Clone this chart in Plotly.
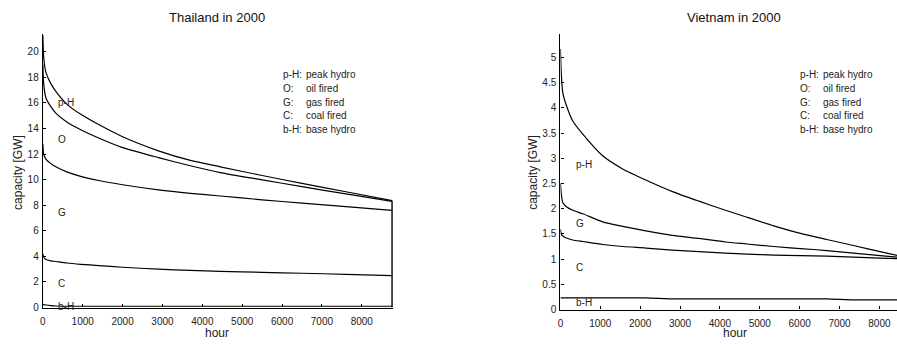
import plotly.graph_objects as go

# ---------------- data ----------------
th_hours = [0, 20, 75, 200, 325, 600, 950, 1400, 2000, 2900, 3700, 4450, 5500, 6500, 7600, 8760]
th_peak_hydro = [21.3, 19.6, 18.4, 17.5, 16.9, 15.9, 15.1, 14.3, 13.35, 12.25, 11.5, 11.0, 10.32, 9.7, 9.05, 8.35]
th_oil = [19.0, 17.5, 16.4, 15.7, 15.2, 14.5, 13.9, 13.25, 12.5, 11.72, 11.08, 10.55, 9.98, 9.45, 8.88, 8.3]
th_gas = [12.8, 12.0, 11.6, 11.25, 11.0, 10.6, 10.25, 9.93, 9.6, 9.2, 8.93, 8.72, 8.42, 8.16, 7.88, 7.6]
th_coal = [4.2, 3.95, 3.75, 3.65, 3.6, 3.48, 3.38, 3.28, 3.15, 3.0, 2.9, 2.83, 2.75, 2.68, 2.6, 2.5]
th_base_hydro = [0.25, 0.23, 0.2, 0.15, 0.12, 0.1, 0.1, 0.1, 0.1, 0.1, 0.1, 0.1, 0.1, 0.1, 0.1, 0.1]

vn_hours = [0, 20, 60, 150, 310, 560, 1060, 1560, 2140, 2810, 3475, 4140, 4680, 5350, 6020, 6680, 7350, 8020, 8760]
vn_peak_hydro = [5.17, 4.7, 4.3, 4.05, 3.74, 3.48, 3.05, 2.79, 2.57, 2.34, 2.15, 1.97, 1.83, 1.66, 1.51, 1.39, 1.27, 1.15, 1.02]
vn_gas = [2.5, 2.3, 2.12, 2.04, 1.97, 1.9, 1.74, 1.65, 1.56, 1.47, 1.41, 1.34, 1.3, 1.25, 1.21, 1.17, 1.12, 1.07, 1.02]
vn_coal = [1.59, 1.5, 1.46, 1.42, 1.38, 1.35, 1.29, 1.25, 1.22, 1.18, 1.15, 1.12, 1.1, 1.08, 1.07, 1.06, 1.04, 1.02, 1.0]
vn_base_hydro = [0.23, 0.23, 0.23, 0.23, 0.23, 0.23, 0.23, 0.23, 0.23, 0.21, 0.21, 0.21, 0.21, 0.21, 0.21, 0.21, 0.19, 0.19, 0.19]

x_ticks = [0, 1000, 2000, 3000, 4000, 5000, 6000, 7000, 8000]
th_y_ticks = [0, 2, 4, 6, 8, 10, 12, 14, 16, 18, 20]
vn_y_ticks = [0, 0.5, 1, 1.5, 2, 2.5, 3, 3.5, 4, 4.5, 5]

legend_keys = ["p-H:", "O:", "G:", "C:", "b-H:"]
legend_desc = ["peak hydro", "oil fired", "gas fired", "coal fired", "base hydro"]

th_labels = ["p-H", "O", "G", "C", "b-H"]
th_label_y = [16.0, 13.1, 7.4, 1.9, 0.05]
vn_labels = ["p-H", "G", "C", "b-H"]
vn_label_y = [2.88, 1.70, 0.84, 0.13]

# ---------------- figure ----------------
W, H = 897, 344
FONT = "Arial, Liberation Sans, sans-serif"
LINE = dict(color="black", width=1.2, shape="spline", smoothing=0.6)

fig = go.Figure()

for ys in [th_peak_hydro, th_oil, th_gas, th_coal, th_base_hydro]:
    fig.add_trace(go.Scatter(x=th_hours, y=ys, mode="lines", line=LINE,
                             xaxis="x", yaxis="y", showlegend=False, hoverinfo="skip"))
# closing vertical line at the end of the year
fig.add_trace(go.Scatter(x=[th_hours[-1], th_hours[-1]], y=[0, th_peak_hydro[-1]], mode="lines",
                         line=dict(color="black", width=1.5), xaxis="x", yaxis="y",
                         showlegend=False, hoverinfo="skip", cliponaxis=False))

for ys in [vn_peak_hydro, vn_gas, vn_coal, vn_base_hydro]:
    fig.add_trace(go.Scatter(x=vn_hours, y=ys, mode="lines", line=LINE,
                             xaxis="x2", yaxis="y2", showlegend=False, hoverinfo="skip"))


def px_x(p):
    return p / W


def px_y(p):
    return 1 - p / H


axis_common = dict(showgrid=False, zeroline=False, showline=True, linecolor="black",
                   linewidth=1.3, ticks="inside", ticklen=3, tickcolor="black",
                   tickfont=dict(family=FONT, size=10, color="#222"), fixedrange=True)

fig.update_layout(
    width=W, height=H,
    margin=dict(l=0, r=0, t=0, b=0),
    paper_bgcolor="white", plot_bgcolor="white",
    font=dict(family=FONT, color="#222"),
    xaxis=dict(domain=[px_x(40), px_x(391.2)], range=[0, 8780], tickvals=x_ticks,
               anchor="y", ticklabelstandoff=4, **axis_common),
    yaxis=dict(domain=[px_y(313), px_y(35)], range=[0, 21.35], tickvals=th_y_ticks,
               anchor="x", ticklabelstandoff=1, **axis_common),
    xaxis2=dict(domain=[px_x(559.3), 1.0], range=[0, 8442], tickvals=x_ticks,
                anchor="y2", ticklabelstandoff=4, **axis_common),
    yaxis2=dict(domain=[px_y(315), px_y(35)], range=[0, 5.46], tickvals=vn_y_ticks,
                anchor="x2", ticklabelstandoff=1, **axis_common),
)


def paper_text(text, x, y, size, xanchor="center", angle=0, color="#222"):
    return dict(text=text, x=px_x(x), y=px_y(y), xref="paper", yref="paper",
                xanchor=xanchor, yanchor="middle", textangle=angle, showarrow=False,
                font=dict(family=FONT, size=size, color=color))


ann = []
# titles
ann.append(paper_text("Thailand in 2000", 215, 18, 13, color="#111"))
ann.append(paper_text("Vietnam in 2000", 733, 18, 13, color="#111"))
# axis titles
for xc in [15, 531.7]:
    ann.append(paper_text("capacity [GW]", xc, 175, 12, angle=-90))
for xc in [215, 734]:
    ann.append(paper_text("hour", xc, 339, 12))
# legend texts
legend_y = [76, 90, 104, 118, 132]
for kx, dx in [(278.5, 302), (798, 821)]:
    for k, d, yy in zip(legend_keys, legend_desc, legend_y):
        ann.append(paper_text(k, kx, yy, 10, xanchor="left"))
        ann.append(paper_text(d, dx, yy, 10, xanchor="left"))
# in-plot region labels
for t, yv in zip(th_labels, th_label_y):
    ann.append(dict(text=t, x=330, y=yv, xref="x", yref="y", xanchor="left", yanchor="middle",
                    showarrow=False, font=dict(family=FONT, size=10, color="#222")))
for t, yv in zip(vn_labels, vn_label_y):
    ann.append(dict(text=t, x=340, y=yv, xref="x2", yref="y2", xanchor="left", yanchor="middle",
                    showarrow=False, font=dict(family=FONT, size=10, color="#222")))

fig.update_layout(annotations=ann)

fig.write_html("out.html")
